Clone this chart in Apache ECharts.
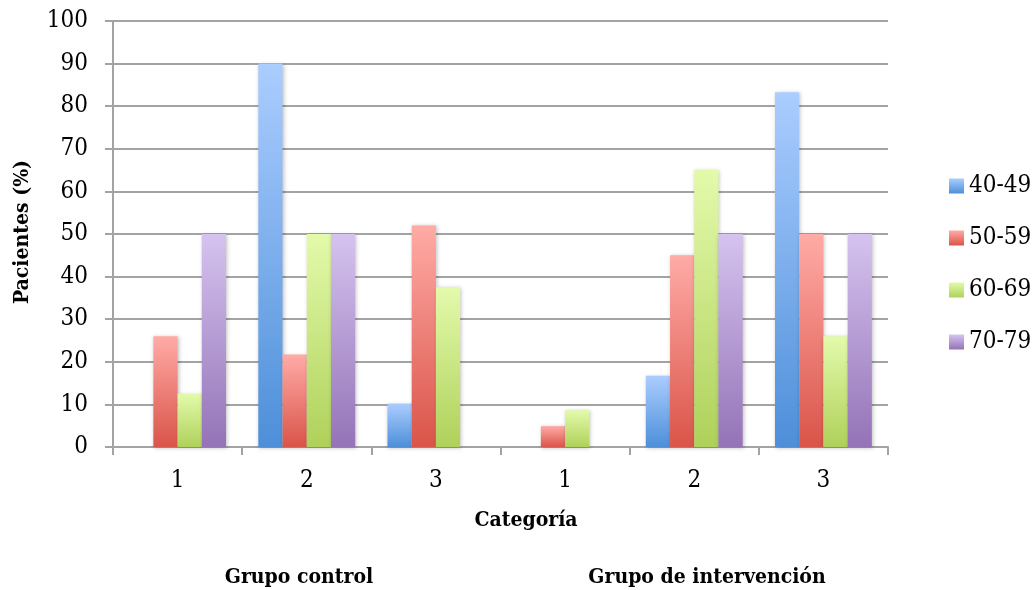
<!DOCTYPE html>
<html>
<head>
<meta charset="utf-8">
<script src="https://cdn.jsdelivr.net/npm/echarts@6/dist/echarts.min.js"></script>
<style>html,body{margin:0;padding:0;background:#fff}#c{width:1035px;height:590px}</style>
</head>
<body>
<div id="c"></div>
<script>
const categories = ['1', '2', '3', '1', '2', '3'];
const seriesNames = ['40-49', '50-59', '60-69', '70-79'];
const s4049 = [0, 90, 10.2, 0, 16.7, 83.3];
const s5059 = [26, 21.7, 52, 4.9, 45, 50];
const s6069 = [12.5, 50, 37.5, 8.6, 65.1, 26];
const s7079 = [50, 50, 0, 0, 50, 50];
const yTicks = [0, 100, 10];
const groupLabels = ['Grupo control', 'Grupo de intervención'];
const xTitle = 'Categoría';
const yTitle = 'Pacientes (%)';

const gradients = [
  ['#abcdff', '#4d8fd9'],
  ['#ffaba6', '#da5449'],
  ['#e3faab', '#afd15a'],
  ['#d5c3ef', '#9473b7']
];
const dataSets = [s4049, s5059, s6069, s7079];
const FONT = '"DejaVu Serif Condensed", "DejaVu Serif", serif';

const chart = echarts.init(document.getElementById('c'));
chart.setOption({
  animation: false,
  grid: { left: 113, right: 147, top: 21, bottom: 143, containLabel: false },
  legend: {
    orient: 'vertical', left: 944, top: 169,
    itemWidth: 15, itemHeight: 15, itemGap: 28,
    icon: 'rect',
    textStyle: { fontFamily: FONT, fontSize: 24, color: '#000' },
    data: seriesNames
  },
  xAxis: {
    type: 'category', data: categories,
    axisLine: { show: true, lineStyle: { color: '#a3a3a3', width: 2 } },
    axisTick: { show: true, length: 8, lineStyle: { color: '#a3a3a3', width: 2 } },
    axisLabel: { fontFamily: FONT, fontSize: 24, color: '#000', margin: 22 },
    splitLine: { show: false }
  },
  yAxis: {
    type: 'value', min: yTicks[0], max: yTicks[1], interval: yTicks[2],
    axisLine: { show: true, lineStyle: { color: '#a3a3a3', width: 2 } },
    axisTick: { show: true, length: 8, lineStyle: { color: '#a3a3a3', width: 2 } },
    axisLabel: { fontFamily: FONT, fontSize: 24, color: '#000', margin: 25 },
    splitLine: { show: true, lineStyle: { color: '#a3a3a3', width: 2 } }
  },
  series: seriesNames.map((name, i) => ({
    name: name, type: 'bar', data: dataSets[i],
    barGap: '0%', barCategoryGap: '25%',
    itemStyle: {
      color: new echarts.graphic.LinearGradient(0, 0, 0, 1, [
        { offset: 0, color: gradients[i][0] },
        { offset: 1, color: gradients[i][1] }
      ]),
      shadowBlur: 4, shadowColor: 'rgba(0,0,0,0.25)', shadowOffsetX: 1, shadowOffsetY: 1
    }
  })),
  graphic: [
    { type: 'text', x: 526, y: 521, style: { text: xTitle, fontFamily: FONT, fontWeight: 'bold', fontSize: 21, fill: '#000', textAlign: 'center', textVerticalAlign: 'middle' } },
    { type: 'text', x: 299, y: 578, style: { text: groupLabels[0], fontFamily: FONT, fontWeight: 'bold', fontSize: 21, fill: '#000', textAlign: 'center', textVerticalAlign: 'middle' } },
    { type: 'text', x: 707, y: 578, style: { text: groupLabels[1], fontFamily: FONT, fontWeight: 'bold', fontSize: 21, fill: '#000', textAlign: 'center', textVerticalAlign: 'middle' } },
    { type: 'text', x: 23, y: 232, rotation: Math.PI / 2, style: { text: yTitle, fontFamily: FONT, fontWeight: 'bold', fontSize: 21, fill: '#000', textAlign: 'center', textVerticalAlign: 'middle' } }
  ]
});
</script>
</body>
</html>
